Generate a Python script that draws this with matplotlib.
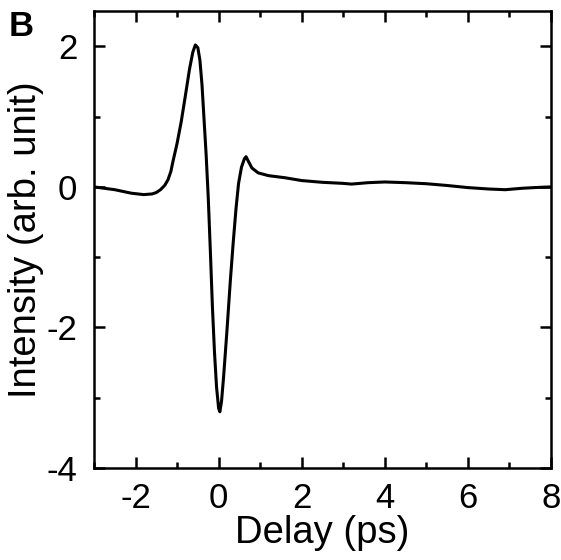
import matplotlib
matplotlib.use("Agg")
import matplotlib.pyplot as plt
from matplotlib.ticker import MultipleLocator

plt.rcParams['font.family'] = ['Liberation Sans', 'DejaVu Sans']

# values
delay = [-3.0, -2.5, -2.1, -1.8, -1.6, -1.5, -1.4, -1.3, -1.22, -1.15,
         -1.1, -1.0, -0.9, -0.8, -0.7, -0.62, -0.56, -0.5, -0.45, -0.4,
         -0.35, -0.3, -0.25, -0.2, -0.15, -0.1, -0.05, 0.0, 0.03, 0.07,
         0.12, 0.2, 0.28, 0.35, 0.42, 0.48, 0.55, 0.62, 0.66, 0.72,
         0.8, 0.95, 1.2, 1.6, 2.0, 2.5, 3.0, 3.2, 3.6, 4.0,
         4.5, 5.0, 5.5, 6.0, 6.5, 6.9, 7.3, 7.6, 8.0]
intensity = [0.0, -0.04, -0.09, -0.11, -0.10, -0.08, -0.04, 0.02, 0.10, 0.22,
             0.36, 0.62, 0.93, 1.3, 1.68, 1.92, 2.02, 1.98, 1.8, 1.45,
             0.95, 0.45, -0.15, -0.9, -1.7, -2.35, -2.85, -3.15, -3.2, -3.05,
             -2.7, -2.05, -1.35, -0.8, -0.3, 0.05, 0.28, 0.4, 0.43, 0.36,
             0.27, 0.2, 0.16, 0.13, 0.09, 0.065, 0.05, 0.04, 0.06, 0.07,
             0.06, 0.045, 0.02, -0.01, -0.03, -0.04, -0.02, -0.01, 0.0]

xticks = [-2, 0, 2, 4, 6, 8]
yticks = [-4, -2, 0, 2]

fig = plt.figure(figsize=(5.61, 5.60), dpi=100)
ax = fig.add_axes([0.1676, 0.1643, 0.8144, 0.8157])

ax.plot(delay, intensity, color='black', lw=2.2, solid_joinstyle='round')

ax.set_xlim(-3, 8)
ax.set_ylim(-4, 2.5)
ax.set_xticks(xticks)
ax.set_yticks(yticks)
ax.set_xticklabels([str(t) for t in xticks])
ax.set_yticklabels([str(t) for t in yticks])
ax.xaxis.set_minor_locator(MultipleLocator(1))
ax.yaxis.set_minor_locator(MultipleLocator(1))

ax.tick_params(which='both', direction='in', top=True, right=True,
               width=1.8, labelsize=25)
ax.tick_params(which='major', length=8)
ax.tick_params(which='minor', length=4)
ax.tick_params(axis='x', which='major', pad=10)
ax.tick_params(axis='y', which='major', pad=12)

for s in ax.spines.values():
    s.set_linewidth(1.8)

ax.set_xlabel("Delay (ps)", fontsize=27.5, labelpad=0)
ax.set_ylabel("Intensity (arb. unit)", fontsize=27.5, labelpad=2)

fig.text(0.015, 0.935, "B", fontsize=25, fontweight='bold')

fig.savefig("out.png", dpi=100)
